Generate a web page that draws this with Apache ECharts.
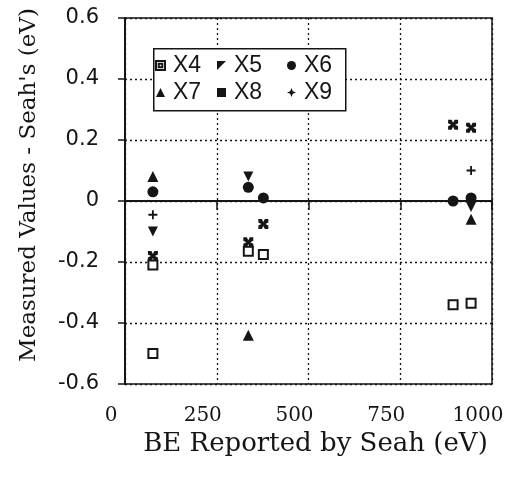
<!DOCTYPE html>
<html>
<head>
<meta charset="utf-8">
<script src="https://cdn.jsdelivr.net/npm/echarts@6/dist/echarts.min.js"></script>
<style>html,body{margin:0;padding:0;background:#fff;}#c{width:513px;height:477px;}</style>
</head>
<body>
<div id="c"></div>
<script>
// Data
const seriesNames = ['X4', 'X5', 'X6', 'X7', 'X8', 'X9'];
const x4X = [76, 76, 336, 377, 894, 943];
const x4Y = [-0.21, -0.50, -0.165, -0.175, -0.34, -0.335];
const x5X = [76, 336, 943];
const x5Y = [-0.10, 0.08, -0.02];
const x6X = [76, 336, 377, 894, 943];
const x6Y = [0.03, 0.045, 0.01, 0.0, 0.01];
const x7X = [76, 336, 943];
const x7Y = [0.08, -0.44, -0.06];
const x8X = [76, 336, 377, 894, 943];
const x8Y = [-0.18, -0.135, -0.075, 0.25, 0.24];
const x9X = [76, 943];
const x9Y = [-0.045, 0.10];
const xTicks = [0, 250, 500, 750, 1000];
const yTicks = [-0.6, -0.4, -0.2, 0, 0.2, 0.4, 0.6];

const ink = '#151515';
const pairs = (xs, ys) => xs.map((x, i) => [x, ys[i]]);

const symX = 'path://M0,0 L3.5,0 L5,3 L6.5,0 L10,0 L10,3.5 L7,5 L10,6.5 L10,10 L6.5,10 L5,7 L3.5,10 L0,10 L0,6.5 L3,5 L0,3.5 Z';
const symPlus = 'path://M4,0 L6,0 L6,4 L10,4 L10,6 L6,6 L6,10 L4,10 L4,6 L0,6 L0,4 L4,4 Z';
const symDown = 'path://M0,0 L10,0 L5,10 Z';
const symFlag = 'path://M0,0 L10,0 L0,10 Z';
const icons = {
  X4: 'path://M0,0 L10,0 L10,10 L0,10 Z M3,3 L3,7 L7,7 L7,3 Z',
  X5: symFlag, X6: 'circle', X7: 'triangle', X8: 'rect',
  X9: 'path://M5,0 L6.5,3.5 L10,5 L6.5,6.5 L5,10 L3.5,6.5 L0,5 L3.5,3.5 Z'
};
const legendCols = [['X4', 'X7'], ['X5', 'X8'], ['X6', 'X9']];
const legendLeft = [155, 217, 287];

const chart = echarts.init(document.getElementById('c'));
chart.setOption({
  backgroundColor: '#fff',
  animation: false,
  grid: { left: 125, right: 21, top: 18, bottom: 93, show: true, borderColor: ink, borderWidth: 1.5 },
  graphic: [{ type: 'rect', left: 153, top: 48, shape: { width: 192, height: 62 },
    style: { fill: '#fff', stroke: ink, lineWidth: 1.5 }, z: 50 }],
  legend: legendCols.map((col, i) => ({
    left: legendLeft[i], top: 54, orient: 'vertical', padding: 0, itemGap: 4,
    itemWidth: 9, itemHeight: 9, z: 60,
    textStyle: { fontFamily: 'Liberation Sans', fontSize: 23, color: ink, padding: [0, 0, 0, 3] },
    data: col.map(n => ({ name: n, icon: icons[n] }))
  })),
  xAxis: {
    type: 'value', min: 0, max: 1000, interval: 250,
    name: 'BE Reported by Seah (eV)', nameLocation: 'middle', nameGap: 42,
    nameTextStyle: { fontFamily: 'DejaVu Serif', fontSize: 26, color: ink, padding: [0, 0, 0, 14] },
    axisLine: { lineStyle: { color: ink, width: 2 } },
    axisTick: { show: true, length: 9, lineStyle: { color: ink, width: 1.5 } },
    axisLabel: { fontFamily: 'DejaVu Serif', fontSize: 20, color: ink, margin: 22, padding: [0, 28, 0, 0],
      formatter: v => xTicks.includes(v) ? String(v) : '' },
    splitLine: { show: true, lineStyle: { color: ink, type: [2, 3], width: 1.3 } }
  },
  yAxis: {
    type: 'value', min: -0.6, max: 0.6, interval: 0.2,
    name: "Measured Values - Seah's (eV)", nameLocation: 'middle', nameGap: 84,
    nameTextStyle: { fontFamily: 'DejaVu Serif', fontSize: 23, color: ink, padding: [0, 0, 0, 32] },
    axisLine: { lineStyle: { color: ink, width: 2 } },
    axisTick: { show: true, length: 7, lineStyle: { color: ink, width: 1.5 } },
    axisLabel: { fontFamily: 'DejaVu Sans', fontSize: 21, color: ink, margin: 26,
      formatter: v => { const r = Math.round(v * 10) / 10; return yTicks.includes(r) ? String(r) : ''; } },
    splitLine: { show: true, lineStyle: { color: ink, type: [2, 3], width: 1.3 } }
  },
  series: [
    { name: 'X4', type: 'scatter', data: pairs(x4X, x4Y), symbol: 'rect', symbolSize: 9,
      itemStyle: { color: '#fff', borderColor: ink, borderWidth: 2, opacity: 1 } },
    { name: 'X5', type: 'scatter', data: pairs(x5X, x5Y), symbol: symDown, symbolSize: 10,
      itemStyle: { color: ink, opacity: 1 } },
    { name: 'X6', type: 'scatter', data: pairs(x6X, x6Y), symbol: 'circle', symbolSize: 11,
      itemStyle: { color: ink, opacity: 1 } },
    { name: 'X7', type: 'scatter', data: pairs(x7X, x7Y), symbol: 'triangle', symbolSize: 11,
      itemStyle: { color: ink, opacity: 1 } },
    { name: 'X8', type: 'scatter', data: pairs(x8X, x8Y), symbol: symX, symbolSize: 10,
      itemStyle: { color: ink, opacity: 1 } },
    { name: 'X9', type: 'scatter', data: pairs(x9X, x9Y), symbol: symPlus, symbolSize: 9,
      itemStyle: { color: ink, opacity: 1 } }
  ]
});
</script>
</body>
</html>
